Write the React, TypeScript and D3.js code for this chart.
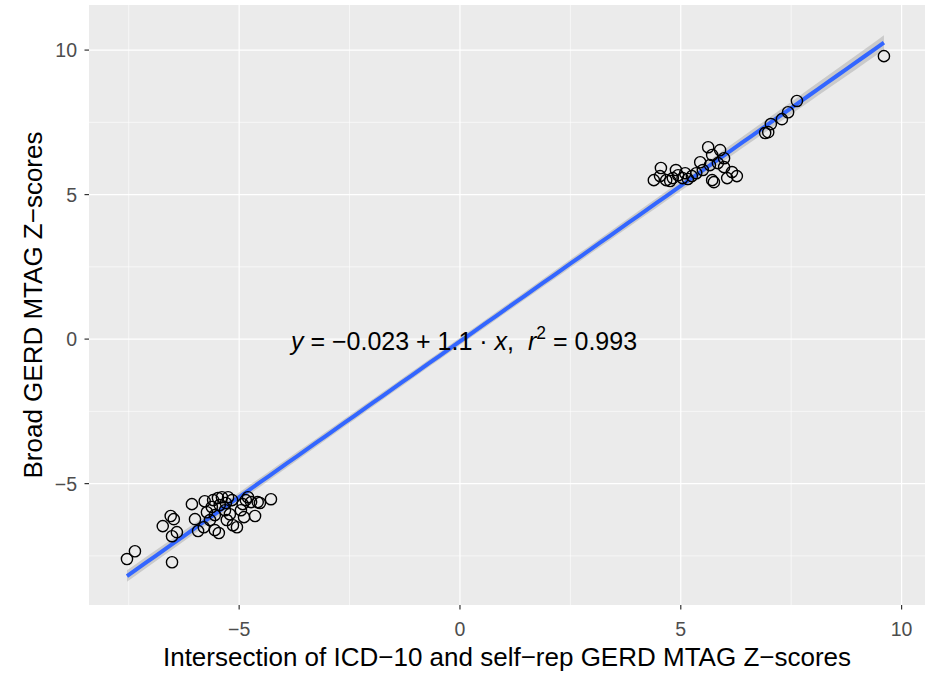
import React from "react";
import * as d3 from "d3";

// Z-scores
const xScores = [
  -7.54, -7.36, -6.52, -6.73, -6.55, -6.48, -6.52, -6.41, -6.07, -6.0, -5.93, -5.78, -5.73, -5.8,
  -5.66, -5.62, -5.55, -5.48, -5.46, -5.44, -5.39, -5.32, -5.3, -5.25, -5.21, -5.16, -5.28, -5.14,
  -5.05, -4.96, -4.92, -4.89, -4.85, -4.8, -4.73, -4.64, -4.58, -4.53, -4.28, -5.59, -5.55,
  4.39, 4.53, 4.55, 4.67, 4.76, 4.82, 4.89, 4.94, 5.04, 5.1, 5.16, 5.25, 5.35, 5.44, 5.5, 5.62,
  5.66, 5.71, 5.71, 5.75, 5.84, 5.89, 5.98, 5.98, 6.05, 6.16, 6.27,
  6.91, 6.98, 7.04, 7.29, 7.43, 7.63, 9.6,
];
const yScores = [
  -7.61, -7.34, -7.72, -6.47, -6.12, -6.23, -6.82, -6.68, -5.71, -6.23, -6.64, -5.61, -5.99, -6.51,
  -6.26, -5.81, -6.09, -5.5, -6.71, -5.74, -5.47, -5.92, -5.67, -5.47, -6.06, -5.57, -6.26, -6.44,
  -6.51, -5.92, -5.71, -6.16, -5.57, -5.47, -5.64, -6.12, -5.64, -5.67, -5.54, -5.57, -6.61,
  5.5, 5.64, 5.92, 5.5, 5.47, 5.57, 5.85, 5.67, 5.57, 5.74, 5.54, 5.64, 5.74, 6.12, 5.85, 6.64,
  6.02, 5.5, 6.37, 5.43, 6.09, 6.54, 6.26, 5.95, 5.57, 5.78, 5.64,
  7.13, 7.16, 7.44, 7.61, 7.85, 8.24, 9.79,
];
const xTicks = [-5, 0, 5, 10];
const yTicks = [-5, 0, 5, 10];
const xMinor = [-7.5, -2.5, 2.5, 7.5];
const yMinor = [-7.5, -2.5, 2.5, 7.5];

const W = 935;
const H = 673;
const FONT = "Liberation Sans, Arial, sans-serif";

export default function App() {
  const x = d3.scaleLinear().domain([-8.4, 10.53]).range([89, 925]);
  const y = d3.scaleLinear().domain([-9.2, 11.56]).range([605, 5]);

  // least squares fit + 95% band
  const n = xScores.length;
  const mx = d3.mean(xScores)!;
  const my = d3.mean(yScores)!;
  const sxx = d3.sum(xScores, (v) => (v - mx) ** 2);
  const sxy = d3.sum(xScores, (v, i) => (v - mx) * (yScores[i] - my));
  const slope = sxy / sxx;
  const icpt = my - slope * mx;
  const s = Math.sqrt(d3.sum(xScores, (v, i) => (yScores[i] - icpt - slope * v) ** 2) / (n - 2));
  const xs = d3.range(81).map((i) => d3.min(xScores)! + (i / 80) * (d3.max(xScores)! - d3.min(xScores)!));
  const band = xs.map((v) => {
    const f = icpt + slope * v;
    const se = 1.99 * s * Math.sqrt(1 / n + (v - mx) ** 2 / sxx);
    return { v, lo: f - se, hi: f + se, f };
  });
  const area = d3.area<(typeof band)[0]>().x((d) => x(d.v)).y0((d) => y(d.lo)).y1((d) => y(d.hi));
  const line = d3.line<(typeof band)[0]>().x((d) => x(d.v)).y((d) => y(d.f));

  const [x0, x1] = x.range();
  const [y0, y1] = y.range();
  const fmt = (t: number) => (t < 0 ? "\u2212" + Math.abs(t) : String(t));

  return (
    <svg width={W} height={H} style={{ position: "absolute", left: 0, top: 0 }} fontFamily={FONT}>
      <rect x={0} y={0} width={W} height={H} fill="#fff" />
      <rect x={x0} y={y1} width={x1 - x0} height={y0 - y1} fill="#EBEBEB" />
      {xMinor.map((t) => (
        <line key={"xm" + t} x1={x(t)} x2={x(t)} y1={y0} y2={y1} stroke="#fff" strokeWidth={0.6} />
      ))}
      {yMinor.map((t) => (
        <line key={"ym" + t} x1={x0} x2={x1} y1={y(t)} y2={y(t)} stroke="#fff" strokeWidth={0.6} />
      ))}
      {xTicks.map((t) => (
        <line key={"xg" + t} x1={x(t)} x2={x(t)} y1={y0} y2={y1} stroke="#fff" strokeWidth={1.2} />
      ))}
      {yTicks.map((t) => (
        <line key={"yg" + t} x1={x0} x2={x1} y1={y(t)} y2={y(t)} stroke="#fff" strokeWidth={1.2} />
      ))}

      <path d={area(band) ?? undefined} fill="#999999" fillOpacity={0.4} />
      <path d={line(band) ?? undefined} fill="none" stroke="#3366FF" strokeWidth={4} />

      <g fill="none" stroke="#000" strokeWidth={1.4}>
        {xScores.map((v, i) => (
          <circle key={i} cx={x(v)} cy={y(yScores[i])} r={5.6} />
        ))}
      </g>

      <text x={464} y={350} fontSize={25} textAnchor="middle" fill="#000" style={{ whiteSpace: "pre" }}>
        <tspan fontStyle="italic">y</tspan>
        <tspan>{" = \u22120.023 + 1.1 \u00b7 "}</tspan>
        <tspan fontStyle="italic">x</tspan>
        <tspan>{",  "}</tspan>
        <tspan fontStyle="italic">r</tspan>
        <tspan fontSize={17.5} dy={-11}>2</tspan>
        <tspan dy={11}>{" = 0.993"}</tspan>
      </text>

      {xTicks.map((t) => (
        <g key={"xt" + t}>
          <line x1={x(t)} x2={x(t)} y1={y0} y2={y0 + 4.5} stroke="#333" strokeWidth={1.2} />
          <text x={x(t)} y={636} fontSize={19.5} textAnchor="middle" fill="#4D4D4D">
            {fmt(t)}
          </text>
        </g>
      ))}
      {yTicks.map((t) => (
        <g key={"yt" + t}>
          <line x1={x0 - 4.5} x2={x0} y1={y(t)} y2={y(t)} stroke="#333" strokeWidth={1.2} />
          <text x={77} y={y(t)} dy="0.36em" fontSize={19.5} textAnchor="end" fill="#4D4D4D">
            {fmt(t)}
          </text>
        </g>
      ))}

      <text x={(x0 + x1) / 2} y={666} fontSize={26} textAnchor="middle" fill="#000">
        {"Intersection of ICD\u221210 and self\u2212rep GERD MTAG Z\u2212scores"}
      </text>
      <text
        transform={`translate(42,${(y0 + y1) / 2}) rotate(-90)`}
        fontSize={26}
        textAnchor="middle"
        fill="#000"
      >
        {"Broad GERD MTAG Z\u2212scores"}
      </text>
    </svg>
  );
}
